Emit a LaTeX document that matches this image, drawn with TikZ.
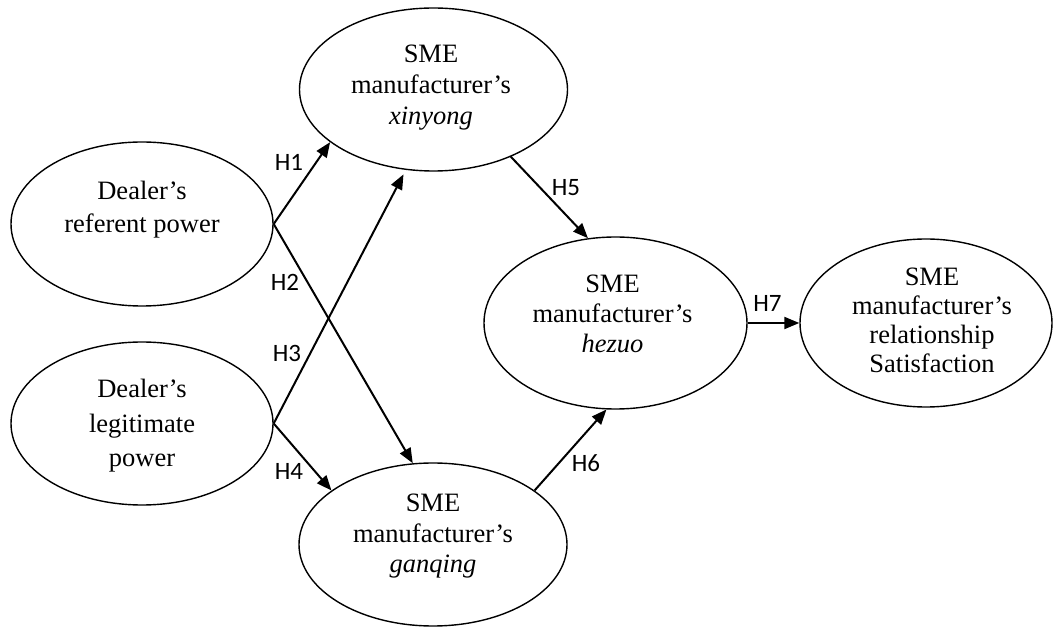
\documentclass[tikz,border=0pt]{standalone}
\usepackage{fontspec}
\setmainfont{Liberation Serif}
\newfontfamily\lblfont{Carlito}
\usetikzlibrary{shapes.geometric,arrows.meta}
\begin{document}
\begin{tikzpicture}[x=1pt,y=1pt,
  oval/.style={ellipse, draw, line width=1.4pt, inner sep=0pt},
  txt/.style={align=center, inner sep=0pt},
  hyp/.style={font=\lblfont\fontsize{25}{30}\selectfont, inner sep=0pt},
  arr/.style={line width=2pt, -{Triangle[length=15pt,width=12pt]}}]
\useasboundingbox (0,0) rectangle (1053,627);
% ellipses
\node[oval, minimum width=262pt, minimum height=164pt] (ref) at (142,403) {};
\node[oval, minimum width=262pt, minimum height=163pt] (leg) at (142,203.5) {};
\node[oval, minimum width=268pt, minimum height=163pt] (xin) at (433.5,537.5) {};
\node[oval, minimum width=268pt, minimum height=163pt] (gan) at (433,82.5) {};
\node[oval, minimum width=263pt, minimum height=172pt] (hez) at (615.5,304) {};
\node[oval, minimum width=252pt, minimum height=168pt] (sat) at (926,304) {};
% texts
\node[txt, font=\fontsize{26.5}{33}\selectfont] (refT) at (142,417.1) {\strut Dealer’s\\\strut referent power};
\node[txt, font=\fontsize{26.5}{34.5}\selectfont] (legT) at (142,201.4) {\strut Dealer’s\\\strut legitimate\\\strut power};
\node[txt, font=\fontsize{26.5}{31}\selectfont] (xinT) at (431,539.2) {\strut SME\\\strut manufacturer’s\\\strut\textit{xinyong}};
\node[txt, font=\fontsize{26.5}{30.5}\selectfont] (ganT) at (433,90.6) {\strut SME\\\strut manufacturer’s\\\strut\textit{ganqing}};
\node[txt, font=\fontsize{26.5}{30}\selectfont] (hezT) at (612.5,310) {\strut SME\\\strut manufacturer’s\\\strut\textit{hezuo}};
\node[txt, font=\fontsize{26.5}{29}\selectfont] (satT) at (932,303.3) {\strut SME\\\strut manufacturer’s\\\strut relationship\\\strut Satisfaction};
% connectors
\draw[arr] (ref.east) -- (xin.207);
\draw[arr] (ref.east) -- (gan.104);
\draw[arr, shorten >=5pt] (leg.east) -- (xin.251);
\draw[arr] (leg.east) -- (gan.152);
\draw[arr] (xin.-41) -- (hez.108);
\draw[arr] (gan.28) -- (hez.264);
\draw[arr] (hez.east) -- (sat.west);
% labels
\node[hyp] (lH1) at (289,465) {H1};
\node[hyp] (lH2) at (285,345) {H2};
\node[hyp] (lH3) at (287,274) {H3};
\node[hyp] (lH4) at (289,156) {H4};
\node[hyp] (lH5) at (566,439.5) {H5};
\node[hyp] (lH6) at (586,163.5) {H6};
\node[hyp] (lH7) at (767.5,323.5) {H7};
\end{tikzpicture}
\end{document}
